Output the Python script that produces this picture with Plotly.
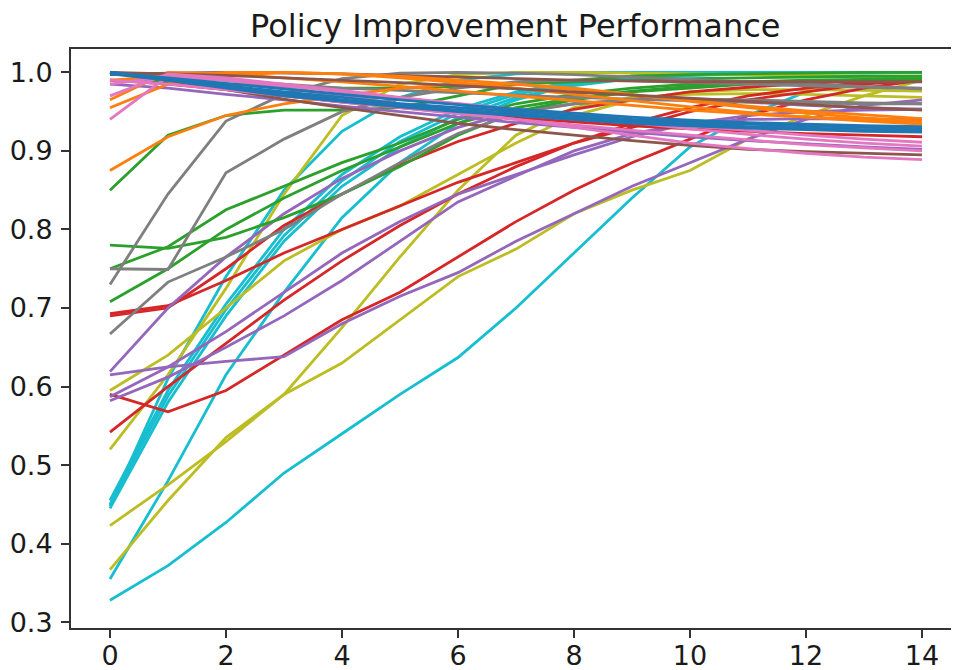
import plotly.graph_objects as go

x_iter = list(range(15))

# ---- series values ----
cyan_1 = [0.328, 0.372, 0.427, 0.490, 0.540, 0.590, 0.637, 0.700, 0.770, 0.840, 0.905, 0.945, 0.975, 0.990, 0.995]
cyan_2 = [0.355, 0.480, 0.615, 0.720, 0.815, 0.885, 0.935, 0.965, 0.985, 0.995, 1.000, 1.000, 1.000, 1.000, 1.000]
cyan_3 = [0.445, 0.580, 0.690, 0.785, 0.855, 0.905, 0.942, 0.968, 0.983, 0.992, 0.996, 0.998, 0.999, 0.999, 1.000]
cyan_4 = [0.450, 0.588, 0.698, 0.792, 0.862, 0.912, 0.948, 0.972, 0.986, 0.993, 0.997, 0.999, 1.000, 1.000, 1.000]
cyan_5 = [0.455, 0.595, 0.705, 0.800, 0.870, 0.918, 0.953, 0.975, 0.988, 0.995, 0.998, 0.999, 1.000, 1.000, 1.000]
cyan_6 = [0.448, 0.610, 0.740, 0.850, 0.925, 0.968, 0.990, 0.998, 1.000, 1.000, 1.000, 1.000, 1.000, 1.000, 1.000]
olive_1 = [0.367, 0.455, 0.535, 0.590, 0.630, 0.685, 0.740, 0.775, 0.820, 0.850, 0.875, 0.915, 0.945, 0.970, 0.990]
olive_2 = [0.423, 0.475, 0.530, 0.590, 0.675, 0.765, 0.850, 0.920, 0.955, 0.968, 0.972, 0.973, 0.972, 0.970, 0.968]
olive_3 = [0.520, 0.615, 0.725, 0.845, 0.945, 0.985, 0.997, 1.000, 1.000, 0.999, 0.998, 0.997, 0.996, 0.995, 0.995]
olive_4 = [0.595, 0.640, 0.700, 0.760, 0.800, 0.830, 0.870, 0.910, 0.945, 0.965, 0.975, 0.978, 0.978, 0.977, 0.976]
red_1 = [0.693, 0.703, 0.735, 0.770, 0.800, 0.830, 0.860, 0.885, 0.910, 0.930, 0.950, 0.965, 0.975, 0.985, 0.990]
red_2 = [0.590, 0.568, 0.595, 0.640, 0.685, 0.720, 0.765, 0.810, 0.850, 0.885, 0.915, 0.945, 0.965, 0.980, 0.990]
red_3 = [0.542, 0.600, 0.655, 0.710, 0.760, 0.805, 0.845, 0.880, 0.910, 0.935, 0.955, 0.970, 0.980, 0.987, 0.990]
red_4 = [0.690, 0.700, 0.750, 0.805, 0.845, 0.882, 0.912, 0.935, 0.953, 0.965, 0.975, 0.981, 0.986, 0.989, 0.991]
red_5 = [0.990, 0.985, 0.978, 0.970, 0.962, 0.955, 0.948, 0.942, 0.937, 0.932, 0.928, 0.925, 0.922, 0.920, 0.918]
purple_1 = [0.619, 0.700, 0.765, 0.820, 0.865, 0.900, 0.930, 0.950, 0.960, 0.965, 0.965, 0.962, 0.958, 0.955, 0.953]
purple_2 = [0.615, 0.625, 0.632, 0.638, 0.680, 0.715, 0.745, 0.785, 0.820, 0.855, 0.885, 0.915, 0.940, 0.958, 0.965]
purple_3 = [0.587, 0.625, 0.670, 0.720, 0.770, 0.810, 0.845, 0.870, 0.895, 0.918, 0.935, 0.945, 0.950, 0.952, 0.953]
purple_4 = [0.582, 0.612, 0.650, 0.690, 0.735, 0.785, 0.835, 0.868, 0.900, 0.922, 0.935, 0.940, 0.941, 0.940, 0.940]
purple_5 = [0.985, 0.980, 0.972, 0.965, 0.957, 0.950, 0.943, 0.936, 0.930, 0.924, 0.918, 0.913, 0.909, 0.905, 0.902]
green_1 = [0.850, 0.920, 0.945, 0.952, 0.952, 0.955, 0.970, 0.985, 0.990, 0.995, 0.997, 0.998, 0.999, 1.000, 1.000]
green_2 = [0.780, 0.776, 0.790, 0.815, 0.845, 0.880, 0.920, 0.950, 0.965, 0.975, 0.980, 0.985, 0.988, 0.990, 0.990]
green_3 = [0.750, 0.778, 0.825, 0.855, 0.885, 0.910, 0.940, 0.960, 0.972, 0.980, 0.985, 0.988, 0.990, 0.991, 0.992]
green_4 = [0.708, 0.750, 0.800, 0.840, 0.875, 0.905, 0.935, 0.955, 0.967, 0.976, 0.982, 0.986, 0.989, 0.990, 0.991]
green_5 = [0.990, 0.988, 0.985, 0.982, 0.980, 0.980, 0.982, 0.985, 0.988, 0.990, 0.992, 0.993, 0.994, 0.995, 0.995]
gray_1 = [0.730, 0.845, 0.938, 0.972, 0.992, 0.999, 1.000, 0.999, 0.997, 0.994, 0.991, 0.988, 0.985, 0.982, 0.980]
gray_2 = [0.750, 0.749, 0.872, 0.915, 0.950, 0.968, 0.980, 0.988, 0.990, 0.989, 0.987, 0.985, 0.983, 0.981, 0.979]
gray_3 = [0.667, 0.733, 0.765, 0.800, 0.845, 0.885, 0.922, 0.948, 0.960, 0.965, 0.966, 0.965, 0.963, 0.961, 0.960]
gray_4 = [1.000, 0.995, 0.990, 0.985, 0.980, 0.977, 0.974, 0.971, 0.968, 0.966, 0.964, 0.962, 0.961, 0.960, 0.960]
blue_1 = [1.000, 0.990, 0.980, 0.970, 0.963, 0.956, 0.950, 0.945, 0.940, 0.935, 0.932, 0.929, 0.927, 0.925, 0.924]
blue_2 = [0.998, 0.990, 0.982, 0.973, 0.965, 0.958, 0.952, 0.947, 0.942, 0.938, 0.934, 0.931, 0.929, 0.927, 0.926]
blue_3 = [1.000, 0.992, 0.983, 0.975, 0.968, 0.960, 0.955, 0.950, 0.945, 0.940, 0.937, 0.934, 0.932, 0.930, 0.928]
blue_4 = [0.999, 0.993, 0.986, 0.979, 0.972, 0.965, 0.959, 0.953, 0.948, 0.943, 0.939, 0.936, 0.934, 0.932, 0.931]
brown_1 = [1.000, 0.990, 0.978, 0.966, 0.955, 0.945, 0.935, 0.927, 0.920, 0.913, 0.907, 0.902, 0.899, 0.897, 0.895]
brown_2 = [1.000, 0.998, 0.996, 0.993, 0.990, 0.987, 0.983, 0.979, 0.975, 0.971, 0.967, 0.963, 0.959, 0.955, 0.952]
brown_3 = [0.997, 0.999, 1.000, 0.999, 0.998, 0.996, 0.994, 0.992, 0.990, 0.989, 0.988, 0.988, 0.988, 0.988, 0.988]
pink_1 = [0.990, 0.985, 0.978, 0.970, 0.962, 0.955, 0.947, 0.940, 0.933, 0.926, 0.920, 0.914, 0.908, 0.904, 0.900]
pink_2 = [0.940, 0.995, 0.990, 0.980, 0.970, 0.960, 0.950, 0.940, 0.930, 0.920, 0.910, 0.903, 0.897, 0.892, 0.889]
pink_3 = [0.970, 0.998, 0.993, 0.985, 0.977, 0.968, 0.960, 0.952, 0.944, 0.936, 0.928, 0.921, 0.915, 0.910, 0.906]
pink_4 = [0.985, 0.995, 0.990, 0.983, 0.975, 0.967, 0.960, 0.953, 0.946, 0.939, 0.932, 0.926, 0.920, 0.915, 0.911]
orange_1 = [0.965, 1.000, 0.998, 0.993, 0.988, 0.982, 0.976, 0.970, 0.964, 0.958, 0.952, 0.947, 0.943, 0.940, 0.937]
orange_2 = [0.955, 0.985, 0.995, 1.000, 0.998, 0.993, 0.987, 0.980, 0.972, 0.964, 0.956, 0.949, 0.943, 0.938, 0.934]
orange_3 = [0.875, 0.918, 0.945, 0.960, 0.970, 0.980, 0.985, 0.985, 0.980, 0.972, 0.963, 0.955, 0.948, 0.942, 0.938]
orange_4 = [0.990, 0.995, 1.000, 1.000, 0.998, 0.995, 0.990, 0.985, 0.978, 0.971, 0.964, 0.957, 0.951, 0.946, 0.941]

# matplotlib default colour cycle
palette = {
    "blue": "#1f77b4", "orange": "#ff7f0e", "green": "#2ca02c", "red": "#d62728",
    "purple": "#9467bd", "brown": "#8c564b", "pink": "#e377c2", "gray": "#7f7f7f",
    "olive": "#bcbd22", "cyan": "#17becf",
}

series = [
    ("cyan", cyan_1), ("cyan", cyan_2), ("cyan", cyan_3), ("cyan", cyan_4), ("cyan", cyan_5), ("cyan", cyan_6),
    ("olive", olive_1), ("olive", olive_2), ("olive", olive_3), ("olive", olive_4),
    ("red", red_1), ("red", red_2), ("red", red_3), ("red", red_4),
    ("purple", purple_1), ("purple", purple_2), ("purple", purple_3), ("purple", purple_4),
    ("green", green_1), ("green", green_2), ("green", green_3), ("green", green_4), ("green", green_5),
    ("gray", gray_1), ("gray", gray_2), ("gray", gray_3),
    ("brown", brown_3), ("gray", gray_4), ("red", red_5), ("purple", purple_5),
    ("orange", orange_1), ("orange", orange_2), ("orange", orange_3), ("orange", orange_4),
    ("brown", brown_2), ("brown", brown_1),
    ("pink", pink_1), ("pink", pink_2), ("pink", pink_3), ("pink", pink_4),
    ("blue", blue_1), ("blue", blue_2), ("blue", blue_3), ("blue", blue_4),
]

x_ticks = [0, 2, 4, 6, 8, 10, 12, 14]
y_ticks = [0.3, 0.4, 0.5, 0.6, 0.7, 0.8, 0.9, 1.0]

fig = go.Figure()
for cname, vals in series:
    fig.add_trace(go.Scatter(x=x_iter, y=vals, mode="lines",
                             line=dict(color=palette[cname], width=2.8),
                             showlegend=False, hoverinfo="skip"))

font_family = "DejaVu Sans"
# the page body keeps its default 8px margin, so the figure is laid out 8px up/left
fig.update_layout(
    width=959, height=670,
    margin=dict(l=63, r=0, t=41, b=50, autoexpand=False),
    paper_bgcolor="white", plot_bgcolor="white",
    title=dict(text="Policy Improvement Performance", x=0.529, xanchor="center",
               y=0.973, yanchor="middle", font=dict(family=font_family, size=32, color="#1a1a1a")),
    font=dict(family=font_family, color="#1a1a1a"),
)
fig.update_xaxes(range=[-0.672, 14.776], tickvals=x_ticks, ticktext=[str(v) for v in x_ticks],
                 automargin=False, ticklabelstandoff=-5,
                 showgrid=False, zeroline=False, showline=True, linecolor="#333333", linewidth=2,
                 mirror=True, ticks="outside", ticklen=8, tickwidth=2, tickcolor="#333333",
                 tickfont=dict(family=font_family, size=27, color="#1a1a1a"))
fig.update_yaxes(range=[0.2927, 1.0297], tickvals=y_ticks, ticktext=[f"{v:.1f}" for v in y_ticks],
                 automargin=False, ticklabelstandoff=3,
                 showgrid=False, zeroline=False, showline=True, linecolor="#333333", linewidth=2,
                 mirror=False, ticks="outside", ticklen=8, tickwidth=2, tickcolor="#333333",
                 tickfont=dict(family=font_family, size=27, color="#1a1a1a"))

fig.write_html("out.html")
